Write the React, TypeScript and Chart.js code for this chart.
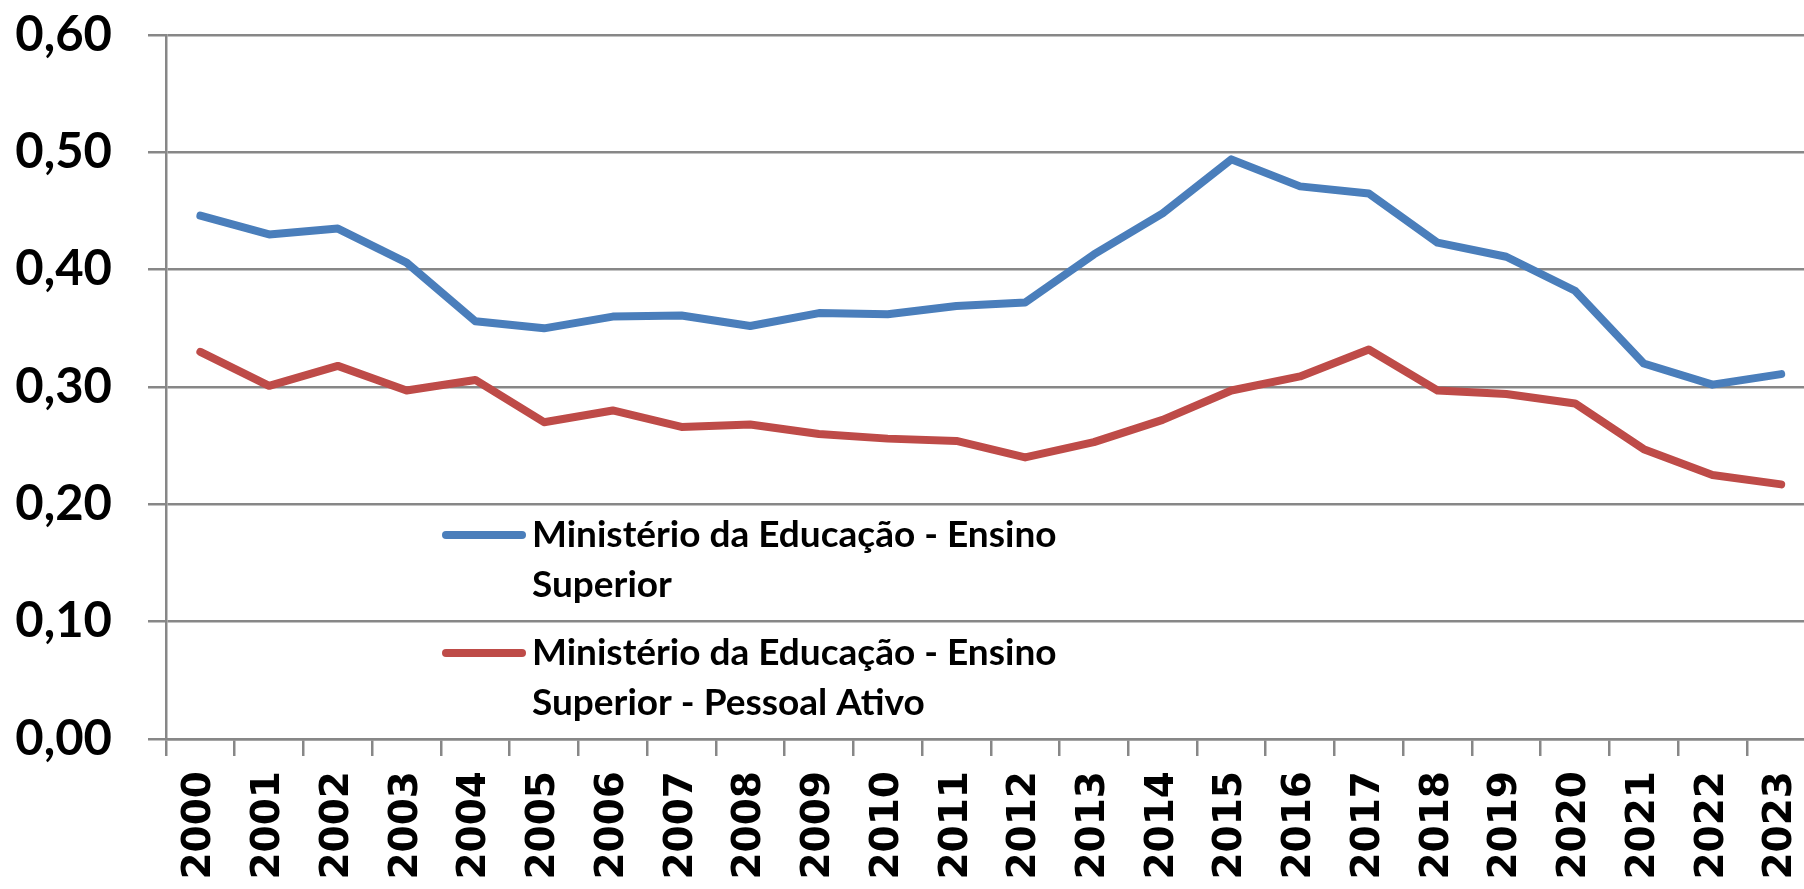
import React, { useEffect, useRef } from "react";
import { Chart, registerables } from "chart.js";

Chart.register(...registerables);

const years = [
  "2000", "2001", "2002", "2003", "2004", "2005", "2006", "2007", "2008", "2009", "2010", "2011",
  "2012", "2013", "2014", "2015", "2016", "2017", "2018", "2019", "2020", "2021", "2022", "2023",
];

const ensinoSuperior = [
  0.446, 0.430, 0.435, 0.406, 0.356, 0.350, 0.360, 0.361, 0.352, 0.363, 0.362, 0.369,
  0.372, 0.413, 0.448, 0.494, 0.471, 0.465, 0.423, 0.411, 0.382, 0.320, 0.302, 0.311,
];

const pessoalAtivo = [
  0.330, 0.301, 0.318, 0.297, 0.306, 0.270, 0.280, 0.266, 0.268, 0.260, 0.256, 0.254,
  0.240, 0.253, 0.272, 0.297, 0.309, 0.332, 0.297, 0.294, 0.286, 0.247, 0.225, 0.217,
];

const seriesLabels = [
  "Ministério da Educação - Ensino Superior",
  "Ministério da Educação - Ensino Superior - Pessoal Ativo",
];

const yTickLabels = ["0,00", "0,10", "0,20", "0,30", "0,40", "0,50", "0,60"];

const BLUE = "#4A7EBB";
const RED = "#BE4B48";
const GRID = "#878787";

const CANVAS_W = 1843;
const CANVAS_H = 960;

const legendPlugin = {
  id: "customLegend",
  afterDraw(chart: any) {
    const ctx = chart.ctx;
    const entries = [{ y: 535 }, { y: 653 }];
    ctx.save();
    ctx.font = "bold 37px Lato";
    ctx.fillStyle = "#000";
    ctx.textBaseline = "middle";
    ctx.textAlign = "left";
    chart.data.datasets.forEach((ds: any, i: number) => {
      const e = entries[i];
      if (!e) return;
      ctx.strokeStyle = ds.borderColor;
      ctx.lineWidth = 8;
      ctx.lineCap = "round";
      ctx.beginPath();
      ctx.moveTo(446, e.y);
      ctx.lineTo(522, e.y);
      ctx.stroke();
      const words = String(ds.label).split(" ");
      const lines: string[] = [];
      let cur = "";
      const maxW = 600;
      for (const w of words) {
        const test = cur ? cur + " " + w : w;
        if (ctx.measureText(test).width > maxW && cur) {
          lines.push(cur);
          cur = w;
        } else {
          cur = test;
        }
      }
      if (cur) lines.push(cur);
      lines.forEach((ln, k) => {
        ctx.fillText(ln, 532, e.y + k * 50);
      });
    });
    ctx.restore();
  },
};

export default function App() {
  const canvasRef = useRef<HTMLCanvasElement | null>(null);

  useEffect(() => {
    document.body.style.margin = "0";
    document.body.style.overflow = "hidden";
    const canvas = canvasRef.current;
    if (!canvas) return;
    const chart = new Chart(canvas, {
      type: "line",
      data: {
        labels: years,
        datasets: [
          {
            label: seriesLabels[0],
            data: ensinoSuperior,
            borderColor: BLUE,
            backgroundColor: BLUE,
            borderWidth: 8,
            pointRadius: 0,
            tension: 0,
            borderJoinStyle: "round",
            borderCapStyle: "round",
          },
          {
            label: seriesLabels[1],
            data: pessoalAtivo,
            borderColor: RED,
            backgroundColor: RED,
            borderWidth: 8,
            pointRadius: 0,
            tension: 0,
            borderJoinStyle: "round",
            borderCapStyle: "round",
          },
        ],
      },
      options: {
        responsive: false,
        animation: false,
        devicePixelRatio: 1,
        layout: { padding: { top: 35, right: 0, left: 0, bottom: 0 } },
        plugins: {
          legend: { display: false },
          tooltip: { enabled: false },
          title: { display: false },
        },
        scales: {
          x: {
            type: "category",
            offset: true,
            grid: {
              offset: true,
              drawOnChartArea: false,
              drawTicks: true,
              tickLength: 17,
              color: GRID,
              lineWidth: 2.5,
            },
            border: { display: true, color: GRID, width: 2.5 },
            ticks: {
              autoSkip: false,
              maxRotation: 90,
              minRotation: 90,
              padding: 15,
              color: "#000",
              font: { family: "'DejaVu Sans'", weight: "bold", size: 39 },
            },
            afterFit(scale: any) {
              scale.height = CANVAS_H - 739;
            },
          },
          y: {
            min: 0,
            max: 0.6,
            grid: {
              color: GRID,
              lineWidth: 2.5,
              drawTicks: true,
              tickLength: 18,
            },
            border: { display: true, color: GRID, width: 2.5 },
            ticks: {
              stepSize: 0.1,
              padding: 36,
              color: "#000",
              font: { family: "Lato", weight: "bold", size: 49 },
              callback: (_v: any, i: number) => yTickLabels[i],
            },
            afterFit(scale: any) {
              scale.width = 166;
              scale.paddingTop = 0;
              scale.paddingBottom = 0;
            },
          },
        },
      },
      plugins: [legendPlugin],
    });
    return () => chart.destroy();
  }, []);

  return (
    <div
      style={{
        position: "fixed",
        left: 0,
        top: 0,
        width: 1804,
        height: 889,
        overflow: "hidden",
        background: "#fff",
      }}
    >
      <canvas ref={canvasRef} width={CANVAS_W} height={CANVAS_H} style={{ display: "block" }} />
    </div>
  );
}
